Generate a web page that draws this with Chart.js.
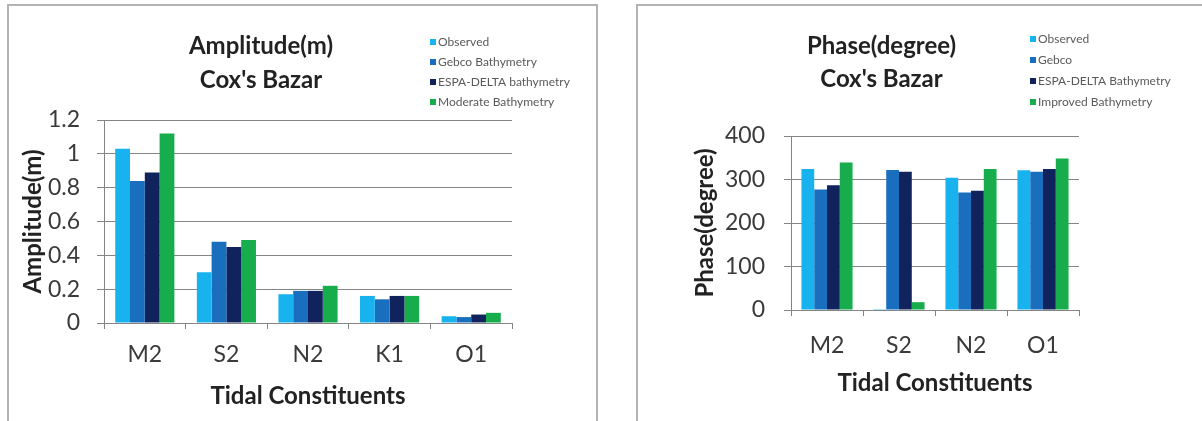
<!DOCTYPE html>
<html>
<head>
<meta charset="utf-8">
<script src="https://cdn.jsdelivr.net/npm/chart.js@4/dist/chart.umd.min.js"></script>
<style>
  body { margin: 0; background: #fff; width: 1202px; height: 421px; overflow: hidden; position: relative; }
  .panel { position: absolute; top: 4px; height: 440px; border: 2px solid #b3b3b3; box-sizing: border-box; background: #fff; }
  .wrap { position: absolute; }
</style>
</head>
<body>
<div class="panel" style="left:7px; width:591px;"></div>
<div class="panel" style="left:636px; width:580px;"></div>
<div class="wrap" style="left:10px; top:7px; width:584px; height:414px;"><canvas id="ampChart"></canvas></div>
<div class="wrap" style="left:639px; top:7px; width:563px; height:414px;"><canvas id="phaseChart"></canvas></div>

<script>
// Amplitude (m) at Cox's Bazar
const ampConstituents = ['M2', 'S2', 'N2', 'K1', 'O1'];
const ampObserved = [1.03, 0.30, 0.17, 0.16, 0.04];
const ampGebco = [0.84, 0.48, 0.19, 0.14, 0.035];
const ampEspaDelta = [0.89, 0.45, 0.19, 0.16, 0.05];
const ampModerate = [1.12, 0.49, 0.22, 0.16, 0.06];

// Phase (degree) at Cox's Bazar
const phaseConstituents = ['M2', 'S2', 'N2', 'O1'];
const phaseObserved = [324, 2, 304, 321];
const phaseGebco = [277, 322, 270, 318];
const phaseEspaDelta = [287, 318, 274, 324];
const phaseImproved = [339, 18, 324, 348];

const COLORS = ['#18b2ee', '#1a6ebe', '#10235d', '#17ad4c'];
const FONT = 'Lato, "Open Sans", sans-serif';
const GRID = '#858585';

Chart.defaults.font.family = FONT;
Chart.defaults.animation = false;

// legend drawn at a fixed spot top-right, like the original
const cornerLegend = {
    id: 'cornerLegend',
    afterDraw(chart, args, opts) {
        const ctx = chart.ctx;
        ctx.save();
        ctx.font = '12px ' + FONT;
        ctx.textBaseline = 'middle';
        ctx.textAlign = 'left';
        chart.data.datasets.forEach((ds, i) => {
            const y = opts.y + i * opts.gap;
            ctx.fillStyle = ds.backgroundColor;
            ctx.fillRect(opts.x, y - 3, 6, 6);
            ctx.fillStyle = '#5a5a5a';
            ctx.fillText(ds.label, opts.x + 8, y);
        });
        ctx.restore();
    }
};

function makeChart(id, cfg) {
    const ctx = document.getElementById(id).getContext('2d');
    return new Chart(ctx, {
        type: 'bar',
        data: {
            labels: cfg.labels,
            datasets: cfg.series.map((s, i) => ({
                label: s.label,
                data: s.data,
                backgroundColor: COLORS[i],
                borderWidth: 0,
                categoryPercentage: cfg.catPct,
                barPercentage: 1.0
            }))
        },
        options: {
            responsive: true,
            maintainAspectRatio: false,
            layout: { padding: { left: cfg.padLeft, right: cfg.padRight, top: 0, bottom: 0 } },
            plugins: {
                legend: { display: false },
                tooltip: { enabled: false },
                title: {
                    display: true,
                    text: cfg.title,
                    color: '#222',
                    font: { size: 24, weight: 'bold', lineHeight: cfg.titleLH / 24 },
                    padding: { top: cfg.titleTop, bottom: cfg.titleBottom }
                },
                cornerLegend: cfg.legend
            },
            scales: {
                x: {
                    grid: { display: true, drawOnChartArea: false, drawTicks: true, tickLength: 6, color: GRID },
                    border: { display: true, color: GRID },
                    ticks: { color: '#3a3a3a', font: { size: 23 }, padding: cfg.xTickPad },
                    title: {
                        display: true,
                        text: 'Tidal Constituents',
                        color: '#222',
                        font: { size: 24, weight: 'bold' },
                        padding: { top: 0, bottom: cfg.xTitleBottom }
                    },
                    afterFit: (scale) => { scale.height = cfg.xHeight; }
                },
                y: {
                    min: 0,
                    max: cfg.yMax,
                    ticks: {
                        stepSize: cfg.yStep,
                        color: '#3a3a3a',
                        font: { size: 23 },
                        padding: cfg.yTickPad,
                        callback: (v) => String(+v.toFixed(1))   // "1" not "1.0", like Excel
                    },
                    grid: { color: GRID, drawTicks: true, tickLength: 7 },
                    border: { display: true, color: GRID },
                    title: {
                        display: true,
                        text: cfg.yTitle,
                        color: '#222',
                        font: { size: 24, weight: 'bold' },
                        padding: { top: cfg.yTitleTop, bottom: 0 }
                    },
                    afterFit: (scale) => { scale.width = cfg.yWidth; }
                }
            }
        },
        plugins: [cornerLegend]
    });
}

makeChart('ampChart', {
    labels: ampConstituents,
    series: [
        { label: 'Observed', data: ampObserved },
        { label: 'Gebco Bathymetry', data: ampGebco },
        { label: 'ESPA-DELTA bathymetry', data: ampEspaDelta },
        { label: 'Moderate Bathymetry', data: ampModerate }
    ],
    title: ['Amplitude(m)', "Cox's Bazar"],
    yTitle: 'Amplitude(m)',
    yMax: 1.2, yStep: 0.2,
    catPct: 0.725,
    padLeft: 0, padRight: 82,
    titleLH: 34, titleTop: 22, titleBottom: 23,
    xHeight: 98, xTickPad: 12, xTitleBottom: 10,
    yWidth: 94, yTickPad: 17, yTitleTop: 9,
    legend: { x: 420, y: 35, gap: 20 }
});

makeChart('phaseChart', {
    labels: phaseConstituents,
    series: [
        { label: 'Observed', data: phaseObserved },
        { label: 'Gebco', data: phaseGebco },
        { label: 'ESPA-DELTA Bathymetry', data: phaseEspaDelta },
        { label: 'Improved Bathymetry', data: phaseImproved }
    ],
    title: ['Phase(degree)', "Cox's Bazar"],
    yTitle: 'Phase(degree)',
    yMax: 400, yStep: 100,
    catPct: 0.71,
    padLeft: 45, padRight: 123,
    titleLH: 33, titleTop: 23, titleBottom: 40,
    xHeight: 111, xTickPad: 16, xTitleBottom: 23,
    yWidth: 107, yTickPad: 19, yTitleTop: 7,
    legend: { x: 391, y: 32, gap: 21 }
});
</script>
</body>
</html>
